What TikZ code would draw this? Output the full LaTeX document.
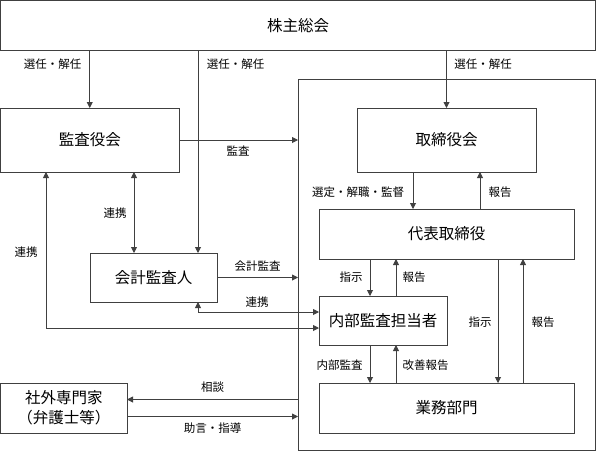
\documentclass[tikz,border=0pt]{standalone}
\usepackage{fontspec}
\newfontfamily\jpfont{Noto Sans CJK JP}
\usetikzlibrary{arrows.meta, positioning, calc}
\definecolor{linegray}{HTML}{404040}

\begin{document}
\begin{tikzpicture}[x=1pt,y=-1pt,
    box/.style={draw=linegray,line width=0.9pt,inner sep=0pt,outer sep=0pt,
                font=\jpfont\fontsize{15.5}{20}\selectfont,align=center},
    lbl/.style={font=\jpfont\fontsize{11.5}{13}\selectfont,inner sep=0pt},
    arr/.style={draw=linegray,line width=0.9pt,-{Triangle[length=6pt,width=6pt]}},
    arrb/.style={draw=linegray,line width=0.9pt,
                 {Triangle[length=6pt,width=6pt]}-{Triangle[length=6pt,width=6pt]}}]
  \useasboundingbox (0,0) rectangle (596,453);
  % boxes
  \node[box,minimum width=297.5pt,minimum height=371pt](cont)at(446.75,264.5){};
  \node[box,minimum width=595pt,minimum height=49.5pt](soukai)at(298,25.25){株主総会};
  \node[box,minimum width=178.5pt,minimum height=64pt](kansayaku)at(89.75,140){監査役会};
  \node[box,minimum width=127pt,minimum height=49pt](kaikei)at(153.5,277.5){会計監査人};
  \node[box,minimum width=179pt,minimum height=64pt](torishimari)at(446.5,140){取締役会};
  \node[box,minimum width=255pt,minimum height=50pt](daihyo)at(446.5,234){代表取締役};
  \node[box,minimum width=128pt,minimum height=49pt](naibu)at(383,320.5){内部監査担当者};
  \node[box,minimum width=255pt,minimum height=50pt](gyomu)at(446.5,408){業務部門};
  \node[box,minimum width=126.5pt,minimum height=50pt](shagai)at(63.75,408){社外専門家\\（弁護士等）};
  % helper columns
  \coordinate (kk) at (198,0);
  \coordinate (rk) at (134,0);
  \coordinate (rl) at (46,0);
  \coordinate (d1) at (498,0);
  \coordinate (d2) at (523,0);
  % from shareholders
  \draw[arr] (kansayaku.north |- soukai.south) -- (kansayaku.north);
  \draw[arr] (kk |- soukai.south) -- (kk |- kaikei.north);
  \draw[arr] (torishimari.north |- soukai.south) -- (torishimari.north);
  \node[lbl](sen1)at(52.5,64){選任・解任};
  \node[lbl](sen2)at(235.5,64){選任・解任};
  \node[lbl](sen3)at(483,64){選任・解任};
  % auditors
  \draw[arr] (kansayaku.east) -- (kansayaku.east -| cont.west);
  \node[lbl](kansa)at(238,151){監査};
  \draw[arrb] (rk |- kansayaku.south) -- (rk |- kaikei.north);
  \node[lbl](renkei1)at(115,213){連携};
  \draw[arr] (kaikei.east) -- (kaikei.east -| cont.west);
  \node[lbl](kaikeikansa)at(257.5,266){会計監査};
  \draw[arrb] (kk |- kaikei.south) |- ([yshift=8.5pt]naibu.west);
  \node[lbl](renkei2)at(257,302){連携};
  \draw[arrb] (rl |- kansayaku.south) |- ([yshift=-7.5pt]naibu.west);
  \node[lbl](renkei3)at(26,252){連携};
  % board and representative
  \draw[arr] ([xshift=-33.5pt]torishimari.south) -- ([xshift=-33.5pt]torishimari.south |- daihyo.north);
  \draw[arr] ([xshift=33.5pt]torishimari.south |- daihyo.north) -- ([xshift=33.5pt]torishimari.south);
  \node[lbl](sentei)at(358,192){選定・解職・監督};
  \node[lbl](houkoku1)at(500,192){報告};
  % representative and internal audit
  \draw[arr] ([xshift=-13pt]naibu.north |- daihyo.south) -- ([xshift=-13pt]naibu.north);
  \draw[arr] ([xshift=13pt]naibu.north) -- ([xshift=13pt]naibu.north |- daihyo.south);
  \node[lbl](shiji1)at(351,277){指示};
  \node[lbl](houkoku2)at(414,277){報告};
  % representative and business
  \draw[arr] (d1 |- daihyo.south) -- (d1 |- gyomu.north);
  \draw[arr] (d2 |- gyomu.north) -- (d2 |- daihyo.south);
  \node[lbl](shiji2)at(480,322){指示};
  \node[lbl](houkoku3)at(543,322){報告};
  % internal audit and business
  \draw[arr] ([xshift=-13pt]naibu.south) -- ([xshift=-13pt]naibu.south |- gyomu.north);
  \draw[arr] ([xshift=13pt]naibu.south |- gyomu.north) -- ([xshift=13pt]naibu.south);
  \node[lbl](naibukansa)at(339.5,365){内部監査};
  \node[lbl](kaizen)at(425.5,365){改善報告};
  % outside experts
  \draw[arr] ([yshift=8.5pt]shagai.east -| cont.west) -- ([yshift=8.5pt]shagai.east);
  \draw[arr] ([yshift=-8.5pt]shagai.east) -- ([yshift=-8.5pt]shagai.east -| cont.west);
  \node[lbl](soudan)at(212.5,387){相談};
  \node[lbl](jogen)at(212.5,428){助言・指導};
\end{tikzpicture}
\end{document}
